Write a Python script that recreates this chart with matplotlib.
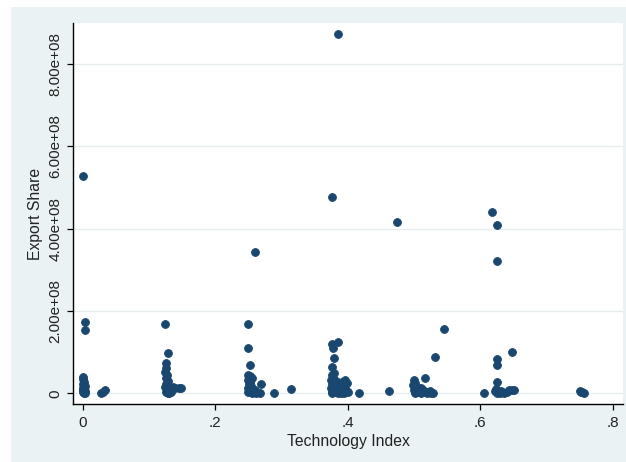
import numpy as np
import matplotlib
matplotlib.use("Agg")
import matplotlib.pyplot as plt
from matplotlib.patches import Rectangle

plt.rcParams['font.family'] = ['Liberation Sans', 'DejaVu Sans']

# Technology index (x) and export share in units of 1e8 (y)
tech_index = [
    # ~0.0 group
    0.000, 0.003, 0.004,
    0.000, 0.001, 0.002, 0.000, 0.003, 0.001, 0.002, 0.000, 0.003, 0.001, 0.004, 0.002,
    0.027, 0.030, 0.033,
    # ~0.125 group
    0.124, 0.128,
    0.125, 0.126, 0.124, 0.127, 0.125, 0.128, 0.126, 0.124, 0.127, 0.129, 0.125, 0.128, 0.131, 0.133,
    0.136, 0.140, 0.145, 0.149, 0.134,
    # ~0.25 group
    0.250, 0.250, 0.252, 0.2606,
    0.249, 0.252, 0.255, 0.250, 0.253, 0.251, 0.254, 0.250, 0.256, 0.252, 0.249, 0.255, 0.258, 0.262, 0.260,
    0.269, 0.268, 0.288, 0.314,
    # ~0.375 group
    0.385, 0.376, 0.376, 0.386, 0.378, 0.380, 0.377, 0.379,
    0.376, 0.378, 0.375, 0.380, 0.376, 0.378, 0.375, 0.380, 0.377, 0.376,
    0.383, 0.386, 0.384, 0.388, 0.382, 0.390, 0.392, 0.396, 0.399, 0.394, 0.398, 0.400, 0.395, 0.386,
    0.381, 0.389, 0.391, 0.385,
    0.4176, 0.463,
    # ~0.5 group
    0.500, 0.501, 0.499, 0.502, 0.500, 0.503, 0.501, 0.506, 0.508, 0.511,
    0.516, 0.514, 0.518, 0.520, 0.524, 0.526, 0.529,
    0.505, 0.510,
    0.532, 0.546, 0.4744, 0.605,
    # ~0.625 group
    0.618, 0.625, 0.625, 0.625, 0.625, 0.6485, 0.626,
    0.622, 0.625, 0.628, 0.632, 0.636, 0.640, 0.644, 0.648, 0.651, 0.630, 0.624,
    # ~0.75 group
    0.750, 0.752, 0.754, 0.756,
]

export_share_e8 = [
    5.28, 1.74, 1.54,
    0.40, 0.34, 0.28, 0.23, 0.18, 0.14, 0.10, 0.07, 0.05, 0.03, 0.01, 0.00,
    0.00, 0.04, 0.08,
    1.68, 0.97,
    0.74, 0.62, 0.52, 0.44, 0.36, 0.29, 0.22, 0.16, 0.10, 0.06, 0.03, 0.00, 0.01, 0.05,
    0.15, 0.14, 0.13, 0.12, 0.02,
    1.68, 1.09, 0.70, 3.43,
    0.45, 0.42, 0.38, 0.33, 0.28, 0.23, 0.18, 0.13, 0.10, 0.06, 0.02, 0.00, 0.03, 0.00, 0.08,
    0.23, 0.00, 0.01, 0.11,
    8.73, 4.77, 1.21, 1.25, 1.09, 0.87, 0.65, 0.49,
    0.44, 0.38, 0.32, 0.27, 0.22, 0.17, 0.12, 0.08, 0.04, 0.00,
    0.30, 0.24, 0.15, 0.10, 0.03, 0.00, 0.27, 0.32, 0.25, 0.14, 0.08, 0.02, 0.00, 0.05,
    0.19, 0.19, 0.06, 0.00,
    0.00, 0.06,
    0.32, 0.25, 0.19, 0.13, 0.08, 0.03, 0.00, 0.10, 0.04, 0.00,
    0.36, 0.07, 0.02, 0.00, 0.06, 0.01, 0.00,
    0.16, 0.12,
    0.89, 1.56, 4.17, 0.00,
    4.41, 4.09, 3.21, 0.83, 0.69, 1.00, 0.28,
    0.05, 0.00, 0.02, 0.06, 0.01, 0.04, 0.07, 0.08, 0.08, 0.00, 0.10,
    0.06, 0.04, 0.02, 0.01,
]

x_ticks = [0, 0.2, 0.4, 0.6, 0.8]
x_tick_labels = ["0", ".2", ".4", ".6", ".8"]
y_ticks = [0, 2e8, 4e8, 6e8, 8e8]
y_tick_labels = ["0", "2.00e+08", "4.00e+08", "6.00e+08", "8.00e+08"]

W, H = 626, 462
fig = plt.figure(figsize=(W / 100, H / 100), dpi=100, facecolor="white")

# graph region background (light blue-gray), offset from the top-left corner
bg = "#EAF2F3"
fig.patches.append(Rectangle((11 / W, 0), 1 - 11 / W, 1 - 7 / H,
                             transform=fig.transFigure, facecolor=bg,
                             edgecolor="none", zorder=-10))

ax = fig.add_axes([73 / W, 1 - 404 / H, (623 - 73) / W, (404 - 23) / H])
ax.set_facecolor("white")

x = np.array(tech_index)
y = np.array(export_share_e8) * 1e8
ax.scatter(x, y, s=32, color="#1A476F", edgecolors="#1A476F", linewidths=0.6, zorder=3)

ax.set_xlim(-0.01464, 0.8155)
ax.set_ylim(-0.26e8, 9.0e8)

ax.set_xticks(x_ticks)
ax.set_xticklabels(x_tick_labels)
ax.set_yticks(y_ticks)
ax.set_yticklabels(y_tick_labels, rotation=90, va="center")

ax.grid(axis="y", color="#E6EDEF", linewidth=1.0, zorder=0)
ax.grid(axis="x", visible=False)

for side in ("top", "right"):
    ax.spines[side].set_visible(False)
for side in ("left", "bottom"):
    ax.spines[side].set_color("black")
    ax.spines[side].set_linewidth(1.0)

ax.tick_params(axis="both", direction="out", length=4.5, width=0.9,
               color="black", labelsize=11, labelcolor="#222222")
ax.tick_params(axis="y", pad=3)
ax.tick_params(axis="x", pad=4)

ax.set_xlabel("Technology Index", fontsize=11.3, color="#222222", labelpad=3)
ax.set_ylabel("Export Share", fontsize=11.3, color="#222222", labelpad=4)

fig.savefig("out.png", dpi=100, facecolor="white")
